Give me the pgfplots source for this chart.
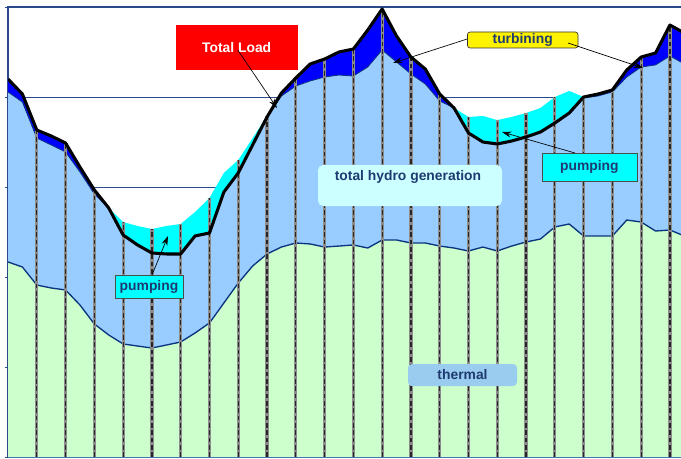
\documentclass[border=0pt]{standalone}
\usepackage{pgfplots}
\pgfplotsset{compat=1.18}
\usepackage{pgfplotstable}
\usetikzlibrary{arrows.meta}
\usepackage{fontspec}
\setmainfont{Liberation Sans}
\definecolor{navy}{HTML}{2A4A8A}
\definecolor{thermalc}{HTML}{CCFFCC}
\definecolor{hydroc}{HTML}{99CCFF}
\definecolor{turbc}{HTML}{0000FF}
\definecolor{pumpc}{HTML}{00FFFF}
\definecolor{lblue}{HTML}{CCFFFF}
\definecolor{thbox}{HTML}{99CCEE}
\definecolor{txtc}{HTML}{1F3A70}
\definecolor{linec}{HTML}{0A3380}
\definecolor{vgray}{HTML}{8C8C8C}
\pgfplotstableread{
x T B L P
0 2.167 4.056 4.200 4.200
0.5 2.111 3.944 4.033 4.033
1 1.911 3.544 3.633 3.633
1.5 1.878 3.467 3.567 3.567
2 1.856 3.389 3.489 3.489
2.5 1.689 3.167 3.222 3.222
3 1.478 2.922 2.967 2.967
3.5 1.356 2.767 2.767 2.767
4 1.256 2.467 2.467 2.611
4.5 1.233 2.356 2.356 2.567
5 1.211 2.267 2.267 2.533
5.5 1.244 2.256 2.256 2.567
6 1.278 2.256 2.256 2.589
6.5 1.378 2.456 2.456 2.722
7 1.489 2.489 2.489 2.878
7.5 1.711 2.944 2.944 3.156
8 1.933 3.156 3.156 3.300
8.5 2.122 3.467 3.467 3.544
9 2.256 3.778 3.778 3.789
9.5 2.333 4.011 4.044 4.044
10 2.378 4.122 4.211 4.211
10.5 2.367 4.178 4.367 4.367
11 2.333 4.222 4.422 4.422
11.5 2.344 4.244 4.500 4.500
12 2.356 4.233 4.533 4.533
12.5 2.322 4.333 4.744 4.744
13 2.411 4.522 4.978 4.978
13.5 2.411 4.389 4.678 4.678
14 2.378 4.256 4.444 4.444
14.5 2.378 4.144 4.311 4.311
15 2.344 3.956 4.033 4.033
15.5 2.322 3.878 3.878 3.878
16 2.289 3.600 3.600 3.778
16.5 2.333 3.500 3.500 3.789
17 2.289 3.478 3.478 3.744
17.5 2.344 3.511 3.511 3.778
18 2.389 3.556 3.556 3.822
18.5 2.422 3.611 3.611 3.878
19 2.556 3.711 3.711 4.000
19.5 2.589 3.822 3.822 4.067
20 2.456 3.989 4.000 4.000
20.5 2.456 4.011 4.033 4.033
21 2.456 4.056 4.078 4.078
21.5 2.633 4.222 4.300 4.300
22 2.611 4.333 4.444 4.444
22.5 2.511 4.356 4.489 4.489
23 2.522 4.456 4.800 4.800
23.5 2.456 4.367 4.711 4.711
}\loaddata
\pgfplotstableread{
x H
1 3.633
2 3.489
3 2.967
4 2.611
5 2.533
6 2.589
7 2.878
8 3.300
9 3.789
10 4.211
11 4.422
12 4.533
13 4.978
14 4.444
15 4.033
16 3.778
17 3.744
18 3.822
19 4.000
20 4.000
21 4.078
22 4.444
23 4.800
}\hourdata
\begin{document}
\begin{tikzpicture}
\useasboundingbox (-6pt,-0.75pt) rectangle (504.75pt,342.75pt);
\begin{axis}[
  at={(0,0)}, anchor=south west,
  scale only axis, width=518.04pt, height=337.5pt,
  xmin=0, xmax=24, ymin=0, ymax=5,
  ytick={0,1,2,3,4,5}, yticklabels={},
  xtick=\empty,
  ymajorgrids, grid style={color=navy, line width=0.6pt},
  tick align=center, major tick length=5pt,
  tick style={navy, line width=0.6pt},
  axis line style={navy, line width=0.9pt},
]
\addplot[draw=none, fill=pumpc] table[x=x, y=P] {\loaddata} \closedcycle;
\addplot[draw=none, fill=turbc] table[x=x, y=L] {\loaddata} \closedcycle;
\addplot[draw=none, fill=hydroc] table[x=x, y=B] {\loaddata} \closedcycle;
\addplot[draw=none, fill=thermalc] table[x=x, y=T] {\loaddata} \closedcycle;
\addplot[linec, line width=0.6pt] table[x=x, y=B] {\loaddata};
\addplot[linec, line width=1pt] table[x=x, y=T] {\loaddata};
\addplot[ycomb, draw=vgray, line width=2.4pt, mark=none] table[x=x, y=H] {\hourdata};
\addplot[ycomb, draw=black!85, line width=0.9pt, mark=none, dash pattern=on 3.5pt off 2pt] table[x=x, y=H] {\hourdata};
\addplot[black, line width=2.3pt, line join=round] table[x=x, y=L] {\loaddata};
\end{axis}
% annotations (coordinates in pt relative to the axis origin)
\fill[red] (126pt,290.25pt) rectangle (217.5pt,324pt);
\node[text=white, font=\fontsize{10.4}{12}\selectfont\bfseries] at (171.5pt,307pt) {Total Load};
\draw[black, line width=0.5pt, -{Stealth[length=7pt,width=4.5pt]}] (172.5pt,305pt) -- (201.75pt,261.75pt);

\draw[fill=yellow, draw=black!80, line width=0.5pt, rounded corners=2pt] (344.6pt,306.75pt) rectangle (427.5pt,318.75pt);
\node[text=txtc, font=\fontsize{10.4}{12}\selectfont\bfseries] at (386pt,312.75pt) {turbining};
\draw[black, line width=0.5pt, -{Stealth[length=7pt,width=4.5pt]}] (344.4pt,313.5pt) -- (288.75pt,295.5pt);
\draw[black, line width=0.5pt, -{Stealth[length=7pt,width=4.5pt]}] (420pt,310.5pt) -- (476.25pt,291.75pt);

\draw[fill=pumpc, draw=black!70, line width=0.5pt] (400.5pt,207pt) rectangle (471.75pt,228pt);
\node[text=txtc, font=\fontsize{10.4}{12}\selectfont\bfseries] at (436pt,217.5pt) {pumping};
\draw[black, line width=0.5pt, -{Stealth[length=7pt,width=4.5pt]}] (425.25pt,228pt) -- (370.5pt,243.75pt);

\draw[fill=pumpc, draw=black!70, line width=0.5pt] (80.25pt,119.25pt) rectangle (131.25pt,136.5pt);
\node[text=txtc, font=\fontsize{10.4}{12}\selectfont\bfseries] at (105.75pt,127.9pt) {pumping};
\draw[black, line width=0.5pt, -{Stealth[length=7pt,width=4.5pt]}] (108pt,136.5pt) -- (120pt,165.75pt);

\fill[lblue, rounded corners=4pt] (232.5pt,188.25pt) rectangle (370.5pt,219pt);
\node[text=txtc, font=\fontsize{10.4}{12}\selectfont\bfseries] at (300pt,210pt) {total hydro generation};

\fill[thbox, rounded corners=3pt] (300pt,53.25pt) rectangle (381.75pt,69.75pt);
\node[text=txtc, font=\fontsize{10.4}{12}\selectfont\bfseries] at (340.9pt,61.5pt) {thermal};
\end{tikzpicture}
\end{document}
